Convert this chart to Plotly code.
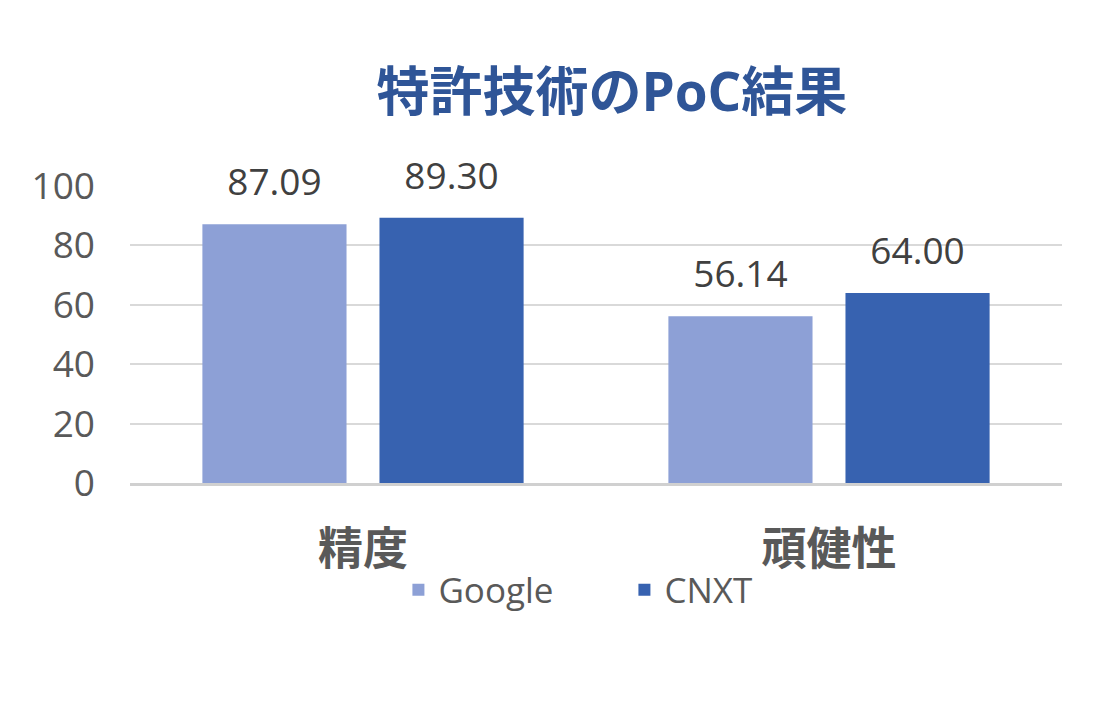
import plotly.graph_objects as go

categories = ["精度", "頑健性"]
google_values = [87.09, 56.14]
cnxt_values = [89.30, 64.00]
series_names = ["Google", "CNXT"]
series_colors = ["#8DA0D6", "#3762B0"]
y_ticks = [0, 20, 40, 60, 80, 100]
title_text = "特許技術のPoC結果"

FONT = "Open Sans, Noto Sans CJK JP, sans-serif"

fig = go.Figure()
for name, vals, col in zip(series_names, [google_values, cnxt_values], series_colors):
    fig.add_trace(go.Bar(
        x=categories, y=vals, name=name,
        marker=dict(color=col, line=dict(width=0)),
        offsetgroup=name, hoverinfo="x+y+name",
    ))
for name, vals in zip(series_names, [google_values, cnxt_values]):
    fig.add_trace(go.Scatter(
        x=categories, y=vals, name=name + " labels", mode="markers+text",
        texttemplate="%{y:.2f}", textposition="top center",
        textfont=dict(size=37, color="#404040", family=FONT),
        marker=dict(size=30, opacity=0, color="white"),
        offsetgroup=name, showlegend=False, hoverinfo="skip", cliponaxis=False,
    ))

fig.update_layout(
    width=1102, height=712,
    paper_bgcolor="white", plot_bgcolor="white",
    margin=dict(l=122, r=48, t=178, b=237, autoexpand=False),
    barmode="group", bargap=0.24, bargroupgap=0.186,
    scattermode="group", scattergap=0.24,
    font=dict(family=FONT, color="#595959"),
    title=dict(text="<b>" + title_text + "</b>", x=0.548, xanchor="center",
               y=0.882, yanchor="middle",
               font=dict(size=53, color="#2F5597", family=FONT)),
    legend=dict(orientation="h", x=0.288, xanchor="left", y=-0.36, yanchor="middle",
                bgcolor="rgba(0,0,0,0)",
                font=dict(size=35, color="#595959", family=FONT),
                itemwidth=30, entrywidth=181, traceorder="normal"),
    showlegend=True,
)
fig.update_yaxes(
    range=[0, 100], tickvals=y_ticks, showgrid=True, gridcolor="#D9D9D9", gridwidth=2,
    zeroline=False, showline=False, ticks="", automargin=False,
    tickfont=dict(size=37, color="#595959", family=FONT),
    ticklabelstandoff=34,
)
fig.update_xaxes(
    showgrid=False, showline=True, linecolor="#D0D0D0", linewidth=3, ticks="",
    automargin=False,
    tickfont=dict(size=45, color="#595959", family=FONT),
    tickprefix="<b>", ticksuffix="</b>",
    ticklabelstandoff=25,
)

fig.write_html("out.html")
